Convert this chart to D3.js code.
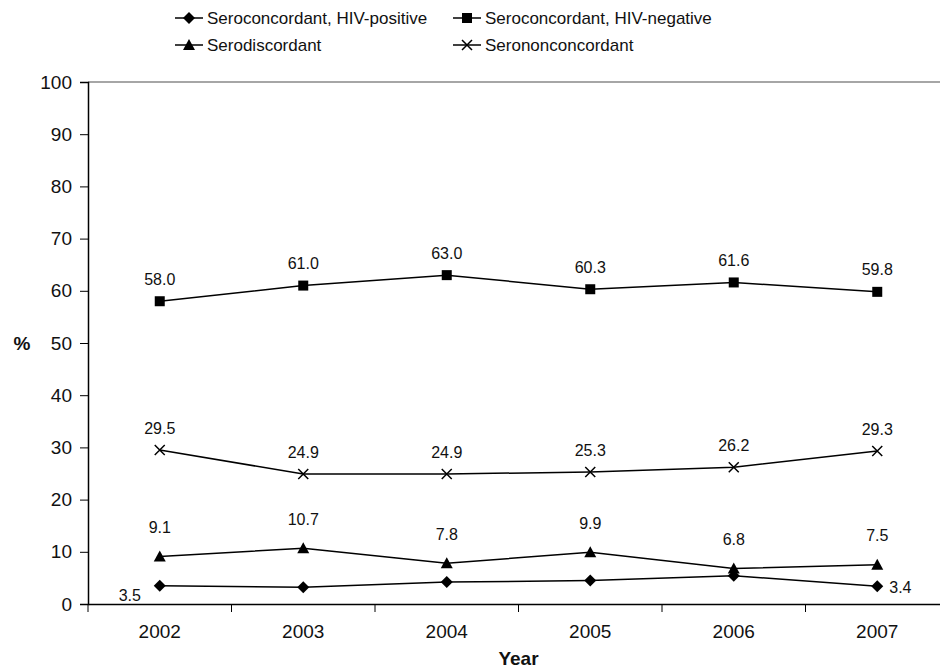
<!DOCTYPE html>
<html>
<head>
<meta charset="utf-8">
<script src="https://cdnjs.cloudflare.com/ajax/libs/d3/7.8.5/d3.min.js"></script>
<style>
  body { margin: 0; background: #fff; }
  svg text { font-family: "Liberation Sans", Arial, sans-serif; fill: #111; }
</style>
</head>
<body>
<svg id="chart" width="940" height="669"></svg>
<script>
var years = ['2002', '2003', '2004', '2005', '2006', '2007'];
var yTicks = [0, 10, 20, 30, 40, 50, 60, 70, 80, 90, 100];

var hivPositive   = [3.5, 3.2, 4.2, 4.5, 5.4, 3.4];
var hivNegative   = [58.0, 61.0, 63.0, 60.3, 61.6, 59.8];
var serodiscord   = [9.1, 10.7, 7.8, 9.9, 6.8, 7.5];
var seronon       = [29.5, 24.9, 24.9, 25.3, 26.2, 29.3];

// which points get a label (pos series only shows the end values)
var series = [
  {name: 'Seroconcordant, HIV-positive', values: hivPositive, marker: 'diamond', labels: [0, 5]},
  {name: 'Seroconcordant, HIV-negative', values: hivNegative, marker: 'square', labels: [0,1,2,3,4,5]},
  {name: 'Serodiscordant', values: serodiscord, marker: 'triangle', labels: [0,1,2,3,4,5]},
  {name: 'Serononconcordant', values: seronon, marker: 'cross', labels: [0,1,2,3,4,5]}
];

var svg = d3.select('#chart');
var mLeft = 88, mRight = 949, mTop = 82, mBottom = 604;

var x = d3.scaleBand().domain(years).range([mLeft, mRight]);
var y = d3.scaleLinear().domain([0, 100]).range([mBottom, mTop]);

// top border of plot area
svg.append('line')
  .attr('x1', mLeft).attr('x2', mRight)
  .attr('y1', y(100)).attr('y2', y(100))
  .attr('stroke', '#888').attr('stroke-width', 1.5);

// y axis
var yAxis = svg.append('g')
  .attr('transform', 'translate(' + mLeft + ',0)')
  .call(d3.axisLeft(y).tickValues(yTicks).tickSize(8).tickPadding(8));
yAxis.selectAll('text').style('font-size', '19px');

// x axis, ticks sit between categories
var xAxis = svg.append('g')
  .attr('transform', 'translate(0,' + mBottom + ')')
  .call(d3.axisBottom(x).tickSize(0).tickPadding(21));
xAxis.selectAll('text').style('font-size', '19px');
var bounds = years.map(function(d){ return x(d); });
xAxis.selectAll('.sep').data(bounds).enter().append('line')
  .attr('class', 'sep')
  .attr('x1', function(d){ return d; }).attr('x2', function(d){ return d; })
  .attr('y1', 0).attr('y2', 8)
  .attr('stroke', '#000');

svg.selectAll('.domain').attr('stroke', '#000').attr('stroke-width', 1.5);
svg.selectAll('.tick line').attr('stroke', '#000');

svg.append('text')
  .attr('x', 22).attr('y', y(50)).attr('dy', '0.35em')
  .attr('text-anchor', 'middle')
  .style('font-size', '19px').style('font-weight', 'bold')
  .text('%');

svg.append('text')
  .attr('x', (mLeft + mRight) / 2).attr('y', 665)
  .attr('text-anchor', 'middle')
  .style('font-size', '19px').style('font-weight', 'bold')
  .text('Year');

function drawMarker(g, type, cx, cy) {
  if (type === 'diamond') {
    g.append('path').attr('d', 'M' + cx + ',' + (cy - 6) + 'L' + (cx + 6) + ',' + cy + 'L' + cx + ',' + (cy + 6) + 'L' + (cx - 6) + ',' + cy + 'Z')
      .attr('fill', '#000');
  } else if (type === 'square') {
    g.append('rect').attr('x', cx - 5).attr('y', cy - 5).attr('width', 10).attr('height', 10).attr('fill', '#000');
  } else if (type === 'triangle') {
    g.append('path').attr('d', 'M' + cx + ',' + (cy - 6) + 'L' + (cx + 6) + ',' + (cy + 5) + 'L' + (cx - 6) + ',' + (cy + 5) + 'Z')
      .attr('fill', '#000');
  } else {
    g.append('path').attr('d', 'M' + (cx - 5) + ',' + (cy - 5) + 'L' + (cx + 5) + ',' + (cy + 5) + 'M' + (cx + 5) + ',' + (cy - 5) + 'L' + (cx - 5) + ',' + (cy + 5))
      .attr('stroke', '#000').attr('stroke-width', 1.5);
  }
}

var line = d3.line()
  .x(function(d, i){ return x(years[i]) + x.bandwidth() / 2; })
  .y(function(d){ return y(d); });

series.forEach(function(s) {
  var g = svg.append('g');
  g.append('path').datum(s.values)
    .attr('d', line)
    .attr('fill', 'none').attr('stroke', '#000').attr('stroke-width', 1.5);
  s.values.forEach(function(v, i) {
    drawMarker(g, s.marker, x(years[i]) + x.bandwidth() / 2, y(v));
  });
  s.labels.forEach(function(i) {
    var cx = x(years[i]) + x.bandwidth() / 2, cy = y(s.values[i]);
    var t = g.append('text').style('font-size', '16px').attr('dy', '0.35em').text(s.values[i].toFixed(1));
    if (s.marker === 'diamond') {
      if (i === 0) t.attr('x', cx - 30).attr('y', cy + 10).attr('text-anchor', 'middle');
      else t.attr('x', cx + 12).attr('y', cy + 1).attr('text-anchor', 'start');
    } else {
      var off = s.marker === 'triangle' ? 29 : 22;
      t.attr('x', cx).attr('y', cy - off).attr('text-anchor', 'middle');
    }
  });
});

// legend
var legendPos = [[175, 18], [453, 18], [175, 45], [453, 45]];
series.forEach(function(s, i) {
  var lx = legendPos[i][0], ly = legendPos[i][1];
  var g = svg.append('g');
  g.append('line').attr('x1', lx).attr('x2', lx + 28).attr('y1', ly).attr('y2', ly)
    .attr('stroke', '#000').attr('stroke-width', 1.5);
  drawMarker(g, s.marker, lx + 14, ly);
  g.append('text').attr('x', lx + 32).attr('y', ly).attr('dy', '0.35em')
    .style('font-size', '17px').text(s.name);
});
</script>
</body>
</html>
